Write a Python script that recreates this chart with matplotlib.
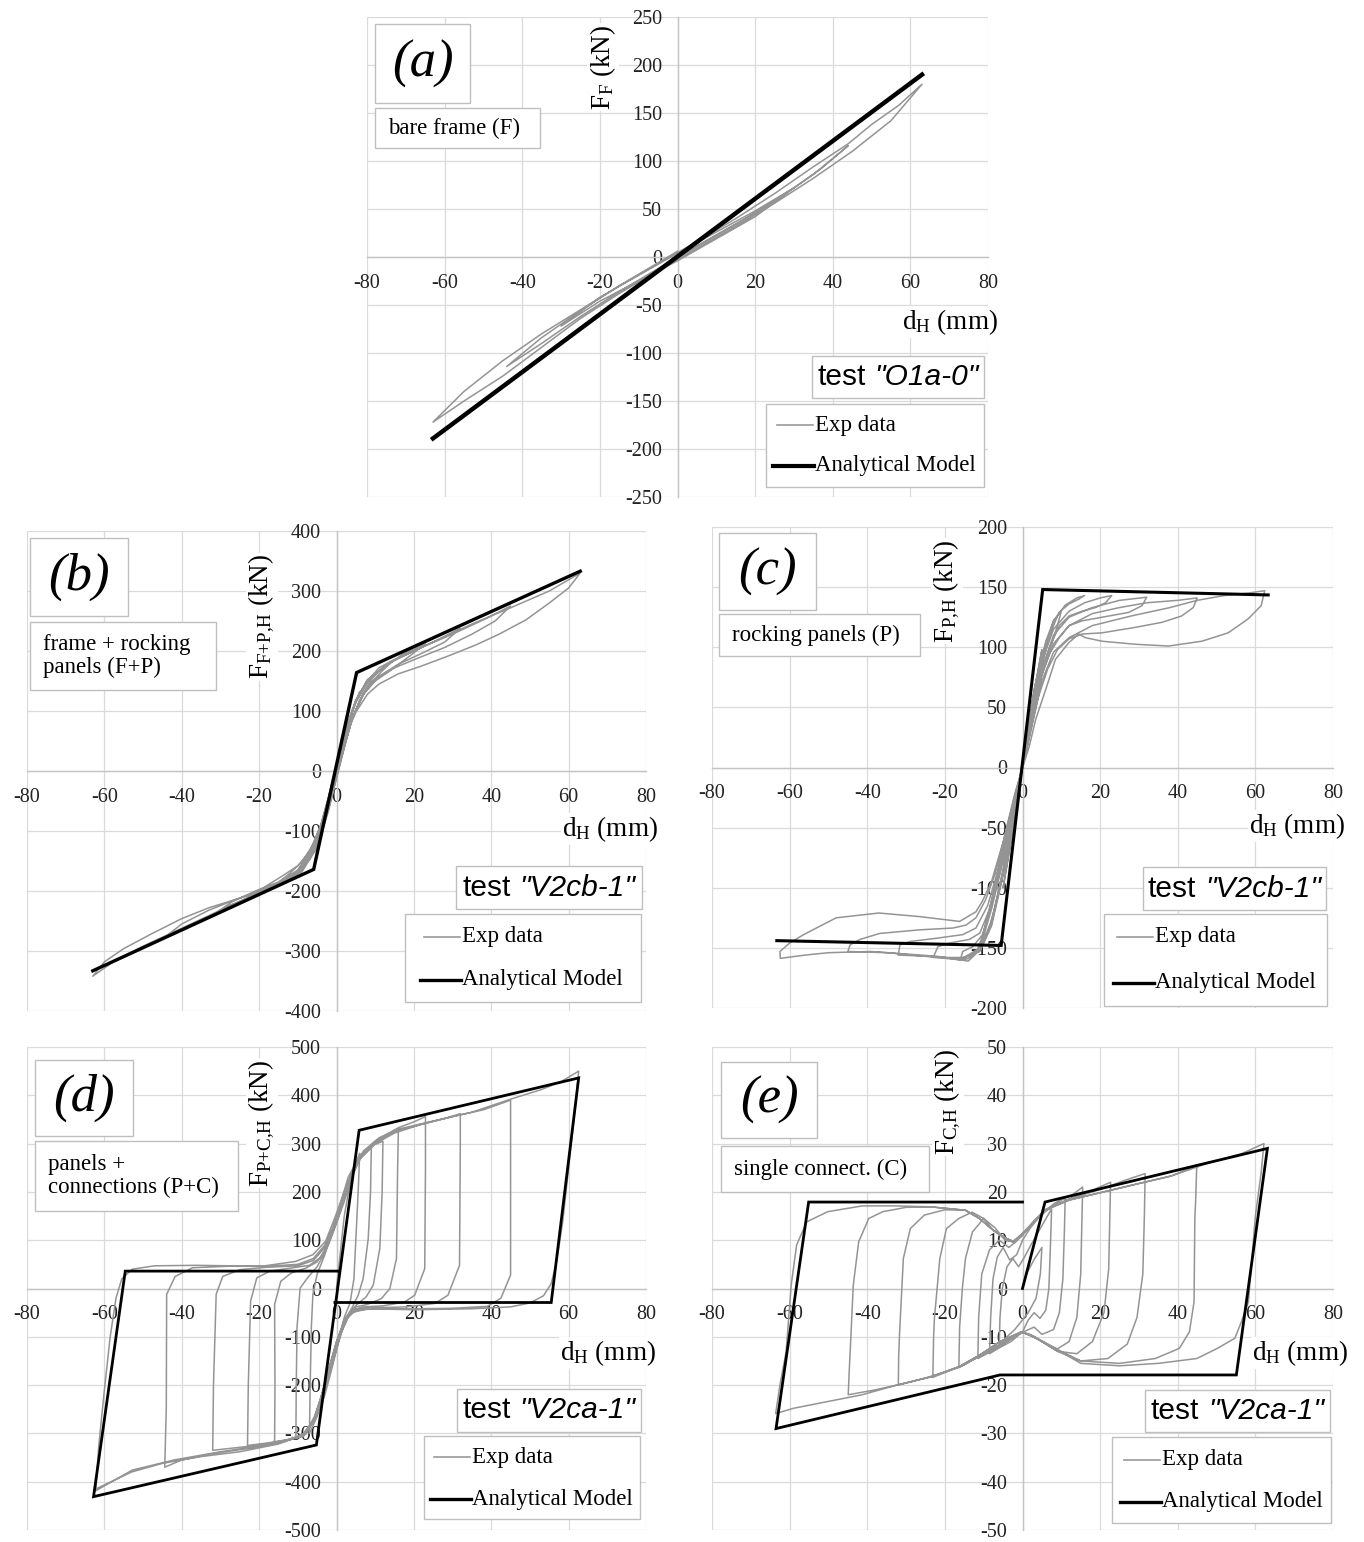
import numpy as np
import matplotlib
matplotlib.use('Agg')
import matplotlib.pyplot as plt
from matplotlib.patches import Rectangle
from matplotlib.lines import Line2D

plt.rcParams['font.family'] = ['Liberation Serif', 'DejaVu Serif']
plt.rcParams['mathtext.fontset'] = 'custom'
plt.rcParams['mathtext.rm'] = 'Liberation Serif'
plt.rcParams['mathtext.it'] = 'Liberation Serif:italic'
plt.rcParams['axes.unicode_minus'] = False

W, H = 1364, 1542

# ---------------- analytical model (d_H mm, F kN) ----------------
a_model_x = [-63, 63]
a_model_y = [-189, 190]
b_model_x = [-63, -5.9, 5.2, 63]
b_model_y = [-333, -164, 164, 333]
c_model_x = [-63.3, -5.5, 5.2, 63.3]
c_model_y = [-144, -148, 148, 143.5]
d_model_x = [0.5, -54.6, -62.8, -5.2, 5.85, 62.6, 55.5, -0.4]
d_model_y = [36, 36, -431, -324, 327.6, 436, -29, -29]
e_model_x = [0, -55.1, -63.5, -5.8, 55.1, 63.1, 5.8, 0]
e_model_y = [17.9, 17.9, -29, -17.9, -17.9, 29, 17.9, 0]

# ---------------- experimental cyclic paths (d_H, F) ----------------
a_exp = [(0, 0), (10, 23), (20, 46), (30, 72),
         (20, 42), (10, 19), (0, -4), (-10, -25), (-20, -46), (-30, -72),
         (-20, -42), (-10, -19), (0, 4), (10, 26), (20, 48), (30, 72), (37, 92), (44, 116),
         (35, 86), (25, 58), (15, 34), (5, 11), (-5, -12), (-15, -36), (-25, -62), (-35, -90), (-44, -114),
         (-35, -84), (-25, -56), (-15, -30), (-5, -7), (5, 16), (15, 40), (25, 66), (35, 94), (44, 118),
         (50, 138), (57, 158), (63, 180),
         (55, 142), (45, 110), (35, 82), (25, 56), (15, 32), (5, 9), (-5, -14), (-15, -38), (-25, -64),
         (-35, -94), (-45, -124), (-55, -150), (-63, -172),
         (-55, -140), (-45, -108), (-35, -80), (-25, -55), (-15, -30), (-5, -6), (0, 6)]

b_exp = [(0, 0), (3, 80), (6, 132),
         (4, 100), (2, 55), (0, 5), (-2, -50), (-4, -100), (-6, -132),
         (-4, -100), (-2, -48), (0, 8), (2, 60), (5, 115), (8, 148), (10, 162),
         (8, 142), (6, 118), (4, 85), (2, 42), (0, -5), (-2, -55), (-4, -105), (-7, -145), (-10, -165),
         (-8, -148), (-6, -125), (-4, -92), (-2, -45), (0, 8), (2, 58), (5, 115), (8, 150), (11, 172), (15, 186),
         (12, 168), (9, 148), (6, 118), (4, 85), (2, 40), (0, -8), (-2, -58), (-4, -108), (-7, -148),
         (-11, -172), (-15, -186),
         (-12, -170), (-9, -152), (-6, -122), (-4, -88), (-2, -42), (0, 10), (2, 60), (5, 115), (8, 148),
         (12, 172), (17, 194), (23, 212),
         (19, 192), (14, 168), (10, 150), (7, 128), (4, 88), (2, 42), (0, -8), (-2, -60), (-5, -125),
         (-9, -162), (-15, -188), (-20, -200), (-23, -212),
         (-19, -195), (-14, -175), (-10, -158), (-7, -135), (-4, -90), (-2, -42), (0, 10), (2, 62), (5, 118),
         (8, 150), (13, 178), (20, 200), (26, 218), (32, 238),
         (28, 215), (22, 196), (16, 178), (11, 158), (7, 130), (4, 88), (2, 40), (0, -10), (-2, -62),
         (-5, -125), (-9, -165), (-15, -192), (-22, -210), (-28, -225), (-32, -240),
         (-27, -218), (-21, -200), (-15, -185), (-10, -165), (-7, -138), (-4, -92), (-2, -45), (0, 10),
         (2, 62), (5, 118), (8, 152), (14, 182), (22, 206), (30, 228), (38, 252), (45, 275),
         (41, 250), (35, 228), (28, 206), (21, 188), (15, 172), (10, 152), (7, 128), (4, 86), (2, 38),
         (0, -12), (-2, -65), (-5, -128), (-9, -168), (-16, -195), (-24, -217), (-32, -240), (-39, -260),
         (-45, -280),
         (-40, -255), (-33, -232), (-26, -214), (-19, -198), (-13, -182), (-9, -165), (-6, -132), (-4, -95),
         (-2, -48), (0, 8), (2, 60), (5, 118), (8, 152), (15, 185), (25, 215), (35, 245), (45, 272),
         (55, 300), (63, 330),
         (60, 305), (55, 280), (49, 252), (42, 228), (36, 210), (29, 192), (22, 175), (16, 162), (11, 145),
         (8, 128), (5, 98), (3, 68), (1, 25), (0, 0), (-2, -50), (-4, -98), (-6, -135), (-9, -165),
         (-15, -190), (-22, -208), (-30, -232), (-40, -262), (-50, -292), (-57, -315), (-63, -342),
         (-60, -318), (-55, -296), (-48, -272), (-40, -246), (-33, -228), (-26, -214), (-19, -200),
         (-13, -185), (-9, -168), (-6, -135), (-4, -95), (-2, -45), (0, 0)]

c_exp = [(0, 0), (2.5, 55), (5, 98),
         (3, 62), (0, 2), (-3, -62), (-5, -100),
         (-3, -62), (0, 0), (3, 65), (6, 105), (8, 122), (10, 130),
         (9, 118), (7, 98), (4, 68), (2, 35), (0, 0), (-2, -38), (-4, -75), (-7, -115), (-9, -138), (-11, -152),
         (-10, -140), (-8, -118), (-5, -78), (-2, -36), (0, 0),
         (2, 38), (5, 92), (8, 122), (11, 135), (14, 141), (16, 143),
         (14.5, 140), (12, 136), (9.4, 129), (7, 110), (5, 85), (2, 38), (0, 5), (-2, -35), (-5, -85),
         (-8, -130), (-11, -152), (-14, -159), (-16, -160),
         (-15.4, -153), (-12.8, -149), (-10.3, -139), (-8, -115), (-5, -75), (-2, -30), (0, 2),
         (2, 35), (5, 88), (8, 115), (12, 130), (16, 137), (20, 141), (23, 143),
         (21.4, 137), (18.8, 133), (15.4, 130), (12, 126), (9.5, 118), (7, 100), (5, 80), (2, 36), (0, 4),
         (-2, -36), (-5, -86), (-8, -128), (-11, -150), (-15, -158), (-20, -158), (-23, -158),
         (-21.8, -149), (-18.8, -146), (-13.7, -143), (-11, -137.7), (-8.5, -118), (-5, -72), (-2, -28), (0, 0),
         (2, 32), (5, 82), (8, 110), (12, 125), (18, 133), (25, 139), (32, 141.6),
         (30.8, 134.6), (27.4, 129), (20.5, 125), (15.4, 122), (12, 118), (9.5, 108), (7, 95), (4.5, 72),
         (2, 34), (0, 2), (-2, -38), (-5, -88), (-8, -130), (-11, -152), (-16, -159), (-24, -157), (-32, -156),
         (-31.6, -147.5), (-29, -144.7), (-22.2, -142), (-15.4, -139), (-12, -133.5), (-9, -115), (-6, -82),
         (-3, -38), (0, 0),
         (2, 30), (5, 78), (8, 103), (12, 118), (18, 128), (25, 133), (32, 137), (40, 139), (45, 141),
         (44, 133), (41, 126), (35.9, 120.7), (29, 116.5), (20.5, 112), (15.4, 111), (12, 107), (9, 98),
         (6.5, 82), (4, 58), (2, 30), (0, 0), (-2, -40), (-5, -90), (-8, -132), (-11, -153), (-16, -160),
         (-25, -157), (-35, -154), (-45, -153),
         (-44.4, -147.5), (-41.9, -143), (-36.8, -138), (-26.5, -135), (-17.9, -133.5), (-14.5, -131),
         (-12, -125), (-9.5, -110), (-7, -88), (-4, -50), (-2, -24), (0, 0),
         (2, 28), (5, 72), (8, 96), (12, 108), (18, 118), (28, 126), (38, 133), (45, 139), (52, 143),
         (58, 145), (62.4, 147),
         (61.5, 134.6), (58.1, 123.5), (53, 112), (46.2, 105), (37.6, 101), (29, 102.5), (20.5, 105),
         (16.2, 108), (14.5, 111), (12, 104), (8.5, 90), (6, 65), (3.4, 40), (1.7, 17), (0, 0),
         (-1.7, -22), (-3.4, -44), (-5.1, -66), (-6.8, -94), (-8.5, -117), (-10.3, -140), (-12, -155),
         (-14, -161), (-22, -157), (-39, -153), (-50, -154), (-56, -156), (-62.4, -158.7),
         (-62.5, -153), (-60, -146), (-56.4, -139), (-48, -125), (-37, -121), (-26.5, -124), (-16.2, -128),
         (-12, -120), (-10.3, -111), (-8, -95), (-5, -62), (-2, -22), (0, 0)]

d_exp = [(0, 0), (2, 150), (4, 240), (6, 280),
         (5.6, 200), (5, 100), (4.5, 20), (3.5, -30), (2, -60), (0.5, -110), (-1, -160), (-3, -220),
         (-5, -265), (-7, -300),
         (-6.8, -200), (-6.5, -80), (-6.1, -12), (-5, 30), (-3, 70), (-1, 120), (1, 175), (3, 230),
         (6, 275), (9, 295),
         (8.8, 200), (8.2, 103), (6.9, 21), (5.6, -14), (4, -40), (2.5, -60), (1, -100), (-0.5, -140),
         (-2, -180), (-4, -230), (-6, -275), (-8.5, -306), (-10.5, -310),
         (-10.4, -200), (-10.2, -80), (-9.4, 1), (-7.2, 25), (-5, 45), (-3, 75), (-1.5, 105), (0, 140),
         (2, 185), (4.3, 240), (6.4, 274), (9, 295), (12, 305),
         (11.8, 200), (11.2, 83), (9.5, 7), (7.7, -17), (5, -35), (3, -55), (1, -95), (-0.5, -135),
         (-2, -180), (-4, -230), (-6, -275), (-8, -302), (-12, -313), (-16, -318),
         (-15.9, -200), (-16, -33), (-14.4, 15), (-11.7, 32), (-8, 42), (-5, 55), (-3, 80), (-1, 115),
         (1, 160), (3, 215), (6, 268), (10, 300), (13, 315), (16, 328),
         (15.8, 250), (15.5, 62), (13.8, 0), (11.6, -21), (8, -33), (5, -38), (3, -58), (1, -95),
         (-1, -145), (-3, -205), (-5.5, -265), (-8, -300), (-12, -312), (-18, -320), (-23, -325),
         (-22.8, -200), (-22.2, -26), (-20.6, 22), (-17.2, 36), (-12, 42), (-7, 48), (-4, 65), (-2, 92),
         (0, 135), (2, 180), (4.3, 240), (7, 282), (11, 310), (16, 333), (20, 345), (23, 356),
         (23, 250), (22.8, 41), (20.2, -14), (17.6, -28), (12, -36), (7, -38), (4, -45), (2, -65),
         (0, -110), (-2, -170), (-4, -225), (-6, -275), (-9, -305), (-15, -318), (-23, -327), (-32, -335),
         (-31.8, -200), (-31.1, -12), (-29.4, 25), (-25, 39), (-18, 44), (-10, 47), (-6, 58), (-3, 85),
         (-1, 120), (1, 165), (3, 215), (6, 268), (10, 300), (15, 322), (22, 340), (28, 352), (32, 362),
         (32, 300), (31.8, 48), (28.8, -14), (25.4, -31), (18, -38), (10, -40), (5, -42), (3, -55),
         (1, -90), (-1, -140), (-3, -200), (-5.5, -262), (-8, -300), (-14, -318), (-22, -330), (-32, -342),
         (-40, -355), (-44.4, -370),
         (-44, -250), (-43.9, -12), (-41.7, 25), (-37.2, 43), (-28, 46), (-18, 46), (-10, 50), (-6, 62),
         (-3, 90), (-1, 125), (1, 170), (3, 220), (6, 270), (10, 305), (15, 325), (22, 340), (30, 356),
         (38, 370), (45, 390),
         (45, 300), (45, 28), (42.5, -20), (39, -37), (30, -41), (20, -42), (10, -42), (5, -45), (3, -60),
         (1, -95), (-1, -150), (-3, -210), (-5.5, -268), (-8, -302), (-15, -322), (-25, -338), (-35, -348),
         (-45, -362), (-53, -380), (-62.2, -415),
         (-61.5, -330), (-60, -210), (-58.5, -100), (-57, -20), (-55.5, 20), (-52.8, 40), (-47, 47),
         (-36, 48), (-19.4, 46), (-10.6, 56), (-6.1, 70), (-2.8, 98), (-0.5, 145), (2, 200), (4.5, 250),
         (7, 285), (11, 312), (16, 330), (24, 345), (35, 365), (45, 392), (53, 412), (58, 428), (62.6, 450),
         (61.5, 360), (60, 250), (58.5, 140), (57, 60), (55.5, 10), (53.5, -15), (50, -30), (45, -38),
         (35, -42), (20, -44), (8, -42), (4, -50), (2, -70), (0, -110), (-2, -165), (-4, -225), (-6, -275),
         (-9, -305), (-16, -322), (-30, -338), (-42, -355), (-52.8, -376), (-62.5, -420)]

e_exp = [(0, 0), (1, 3), (3, 6), (5, 8.5),
         (4.6, 3), (3.5, -2), (1.5, -5), (0, -6.5), (-2, -8.5), (-4, -10), (-6, -11.5),
         (-5.8, -6), (-5.2, 0), (-4, 4.5), (-2.5, 6.2), (-1, 4.5), (0.5, 6.5), (2.5, 9.5), (5, 13), (7.5, 16.5),
         (7.2, 9), (6.8, 0), (6, -4.5), (4.5, -6.2), (3, -5), (1.5, -6.5), (0, -9), (-3, -11), (-6, -12.3),
         (-8.5, -13.5),
         (-8.2, -6), (-7.6, 2), (-6.5, 6.5), (-5, 8.5), (-3.3, 5.9), (-1.5, 7), (0, 10), (2, 12.5), (5, 15.5),
         (8, 17.5), (11, 19),
         (10.8, 12), (10.4, 2), (9.5, -5), (8, -8.5), (5, -9.5), (3, -8), (1, -8.7), (-1, -9.5), (-4, -11),
         (-8, -13), (-11.5, -14.5),
         (-11.3, -6), (-10.5, 3), (-8.5, 8), (-6, 10), (-3.5, 8.5), (-2, 9.5), (0, 11), (3, 13.8), (6, 16),
         (10, 18.3), (13, 19.5), (15.5, 21),
         (15.3, 14), (15, 3), (14, -6), (12, -11), (9, -12.5), (5, -11), (2, -9.5), (0, -9), (-3, -10.5),
         (-7, -12.5), (-11, -14), (-16.4, -16.4),
         (-16.2, -8), (-15.5, 0), (-14.7, 6.2), (-12.9, 11.7), (-10, 14.5), (-7, 12.5), (-4.5, 10),
         (-2.5, 9.7), (0, 11.4), (3, 14), (6, 16.3), (12, 18.5), (17, 20), (22.7, 22),
         (22.5, 15), (22.2, 4), (21, -5), (18, -11), (14, -13.5), (9, -13), (4, -10.5), (0, -9), (-4, -10.8),
         (-9, -13), (-15, -15.8), (-23.1, -18.4),
         (-22.9, -10), (-22.7, -6.2), (-21.3, 6.2), (-19.6, 12.4), (-16.4, 14.5), (-13, 15.8), (-10, 14.5),
         (-7.5, 12), (-4, 10), (-2, 9.5), (0, 11.2), (3, 14), (6, 16.4), (12, 18.5), (20, 20.5), (26, 22.3),
         (31.6, 23.8),
         (31.4, 15), (31, 3), (29.5, -6), (27, -11.5), (22, -14.5), (15, -15), (9, -13), (4, -10.5), (0, -9),
         (-5, -11.2), (-11, -14), (-17, -16.5), (-24, -18.3), (-32, -20),
         (-31.9, -14), (-31.7, -9.7), (-30.7, 6.2), (-28.9, 12.4), (-25.3, 15.2), (-20, 16.3), (-14.7, 16.2),
         (-11.1, 14.5), (-7.6, 12.1), (-4, 10.3), (-2.2, 9.7), (0, 11.4), (3.1, 13.8), (5.8, 16.2),
         (12, 18.3), (20.9, 20), (29.8, 21.7), (38, 23.2), (44.9, 25.5),
         (44.6, 18), (44.4, 14.5), (44.2, -2.8), (43, -9), (40.4, -12.4), (34.2, -14.5), (25, -15.5),
         (15, -15), (8.4, -12.4), (3.1, -10), (-0.4, -9), (-5.8, -11), (-11.1, -13.8), (-16.4, -16.2),
         (-23.6, -18.3), (-32.4, -20), (-38, -21), (-44.9, -22),
         (-44.7, -18), (-44.4, -13.1), (-43.6, 0.7), (-42.2, 9.7), (-39.6, 14.5), (-36, 15.9), (-30, 16.8),
         (-23.6, 16.9), (-14.7, 16.2), (-11.1, 14.5), (-7.6, 12.1), (-4, 10.3), (-2.2, 9.7), (0, 11.4),
         (3.1, 13.8), (5.8, 16.2), (12, 18.3), (20.9, 20), (29.8, 21.7), (38.7, 23.4), (47.6, 25.9),
         (56.4, 27.9), (62.2, 30),
         (61.5, 24), (60, 15), (58.2, -2.8), (56.4, -6.9), (54.7, -10.3), (50.2, -12.4), (44.9, -14.5),
         (35, -15.5), (25, -16), (15, -15.5), (8.4, -12.4), (3.1, -10), (-0.4, -9), (-5.8, -11),
         (-11.1, -13.8), (-16.4, -16.2), (-23.6, -18.3), (-32.4, -20), (-41.3, -22), (-50.2, -23.4),
         (-59, -24.8), (-63.6, -25.9),
         (-62.5, -20), (-60.9, -13.1), (-59.6, 0.7), (-58.2, 9), (-55.6, 13.8), (-50.2, 15.9), (-41.3, 17.1),
         (-32.4, 17.1), (-23.6, 16.9), (-14.7, 16.2), (-11.1, 14.5), (-7.6, 12.1), (-4, 10.3), (-2.2, 9.7),
         (0, 11)]

panel_tags = ['(a)', '(b)', '(c)', '(d)', '(e)']
panel_notes = ['bare frame (F)', 'frame + rocking\npanels (F+P)', 'rocking panels (P)',
               'panels +\nconnections (P+C)', 'single connect. (C)']
y_titles = [r'F$_\mathregular{F}$ (kN)', r'F$_\mathregular{F{+}P{,}H}$ (kN)', r'F$_\mathregular{P{,}H}$ (kN)',
            r'F$_\mathregular{P{+}C{,}H}$ (kN)', r'F$_\mathregular{C{,}H}$ (kN)']
test_names = ['O1a-0', 'V2cb-1', 'V2cb-1', 'V2ca-1', 'V2ca-1']
y_ranges = [(-250, 250, 50), (-400, 400, 100), (-200, 200, 50), (-500, 500, 100), (-50, 50, 10)]

fig = plt.figure(figsize=(W / 100, H / 100), dpi=100)
renderer = fig.canvas.get_renderer()


def fx(px):
    return px / W


def fy(py):
    return 1 - py / H


def add_box(x0, y0, x1, y1):
    fig.add_artist(Rectangle((fx(x0), fy(y1)), (x1 - x0) / W, (y1 - y0) / H,
                             transform=fig.transFigure, fc='white', ec='#bfbfbf', lw=1.0, zorder=5))


def test_label(cx, cy, name):
    sans = ['Liberation Sans', 'DejaVu Sans']
    t1 = fig.text(0, fy(cy + 8), 'test', fontsize=21.5, family=sans, va='baseline', zorder=6)
    t2 = fig.text(0, fy(cy + 8), '"' + name + '"', fontsize=21.5, family=sans, style='italic',
                  va='baseline', zorder=6)
    w1 = t1.get_window_extent(renderer).width
    w2 = t2.get_window_extent(renderer).width
    gap = 9
    start = cx - (w1 + gap + w2) / 2
    t1.set_x(fx(start))
    t2.set_x(fx(start + w1 + gap))


def legend_box(box, exp_y, mod_y, text_x, model_lw):
    add_box(*box)
    fig.add_artist(Line2D([fx(text_x - 38), fx(text_x - 2)], [fy(exp_y), fy(exp_y)],
                          transform=fig.transFigure, color='#9a9a9a', lw=1.2, zorder=6))
    fig.add_artist(Line2D([fx(text_x - 42), fx(text_x - 1)], [fy(mod_y), fy(mod_y)],
                          transform=fig.transFigure, color='black', lw=model_lw, zorder=6))
    fig.text(fx(text_x), fy(exp_y), 'Exp data', fontsize=16.5, va='center', zorder=6)
    fig.text(fx(text_x), fy(mod_y), 'Analytical Model', fontsize=16.5, va='center', zorder=6)


# layout of each panel in pixels
axes_boxes = [(367, 17, 988, 497), (27, 531, 646, 1011), (712, 527, 1333, 1008),
              (27, 1047, 646, 1530), (712, 1047, 1333, 1530)]
tag_boxes = [(375, 24, 470, 103), (30, 538, 128, 616), (719, 533, 816, 610),
             (35, 1060, 133, 1136), (721, 1062, 817, 1138)]
note_boxes = [(375, 108, 540, 148), (30, 622, 216, 690), (719, 614, 920, 656),
              (35, 1141, 238, 1211), (721, 1146, 929, 1192)]
ytitle_pos = [(603, 67), (262, 617), (947, 591), (262, 1123), (948, 1102)]
xtitle_pos = [(950, 322), (610, 829), (1297, 826), (608, 1353), (1300, 1353)]
test_boxes = [(812, 356, 984, 398), (456, 866, 642, 909), (1143, 867, 1326, 910),
              (457, 1389, 641, 1432), (1145, 1390, 1330, 1432)]
legend_boxes = [(766, 404, 984, 487), (405, 914, 641, 1002), (1104, 914, 1327, 1006),
                (424, 1436, 640, 1519), (1112, 1437, 1331, 1523)]
legend_rows = [(425, 466, 815), (937, 980, 462), (937, 983, 1155), (1457, 1499, 472), (1460, 1502, 1162)]

exp_sets = [a_exp, b_exp, c_exp, d_exp, e_exp]
model_sets = [(a_model_x, a_model_y), (b_model_x, b_model_y), (c_model_x, c_model_y),
              (d_model_x, d_model_y), (e_model_x, e_model_y)]
model_lws = [3.2, 2.4, 2.2, 2.0, 2.0]

for i in range(5):
    x0, y0, x1, y1 = axes_boxes[i]
    ax = fig.add_axes([fx(x0), fy(y1), (x1 - x0) / W, (y1 - y0) / H])
    ymin, ymax, ystep = y_ranges[i]
    ax.set_xlim(-80, 80)
    ax.set_ylim(ymin, ymax)
    ax.set_xticks(np.arange(-80, 81, 20))
    ax.set_yticks(np.arange(ymin, ymax + 1, ystep))
    ax.grid(True, color='#dadada', lw=0.9)
    ax.set_axisbelow(True)
    for s in ['top', 'right']:
        ax.spines[s].set_visible(False)
    for s in ['left', 'bottom']:
        ax.spines[s].set_position(('data', 0))
        ax.spines[s].set_color('#c4c4c4')
        ax.spines[s].set_linewidth(1.0)
        ax.spines[s].set_zorder(1)
    ax.tick_params(length=0, labelsize=14.5, colors='#222222')
    ax.tick_params(axis='x', pad=12)
    ax.tick_params(axis='y', pad=11)

    ex, ey = np.array(exp_sets[i]).T
    ax.plot(ex, ey, color='#949494', lw=1.1, zorder=2)
    mx, my = model_sets[i]
    ax.plot(mx, my, color='black', lw=model_lws[i], zorder=3, solid_joinstyle='miter')

    # panel tag and description
    add_box(*tag_boxes[i])
    tb = tag_boxes[i]
    fig.text(fx((tb[0] + tb[2]) / 2), fy((tb[1] + tb[3]) / 2), panel_tags[i], fontsize=38,
             style='italic', ha='center', va='center', zorder=6)
    add_box(*note_boxes[i])
    nb = note_boxes[i]
    fig.text(fx(nb[0] + 13), fy((nb[1] + nb[3]) / 2), panel_notes[i], fontsize=16.5,
             ha='left', va='center', linespacing=1.12, zorder=6)

    # axis titles
    yx, yy = ytitle_pos[i]
    fig.text(fx(yx), fy(yy), y_titles[i], fontsize=19.5, rotation=90, ha='center', va='center',
             zorder=4, bbox=dict(fc='white', ec='none', pad=1))
    xx, xy = xtitle_pos[i]
    fig.text(fx(xx), fy(xy), r'd$_\mathregular{H}$ (mm)', fontsize=19.5, ha='center', va='center',
             zorder=4, bbox=dict(fc='white', ec='none', pad=1))

    # test name and legend
    add_box(*test_boxes[i])
    bx = test_boxes[i]
    test_label((bx[0] + bx[2]) / 2, (bx[1] + bx[3]) / 2, test_names[i])
    r = legend_rows[i]
    legend_box(legend_boxes[i], r[0], r[1], r[2], 3.0 if i == 0 else 2.4)

fig.savefig('out.png', dpi=100, facecolor='white')
